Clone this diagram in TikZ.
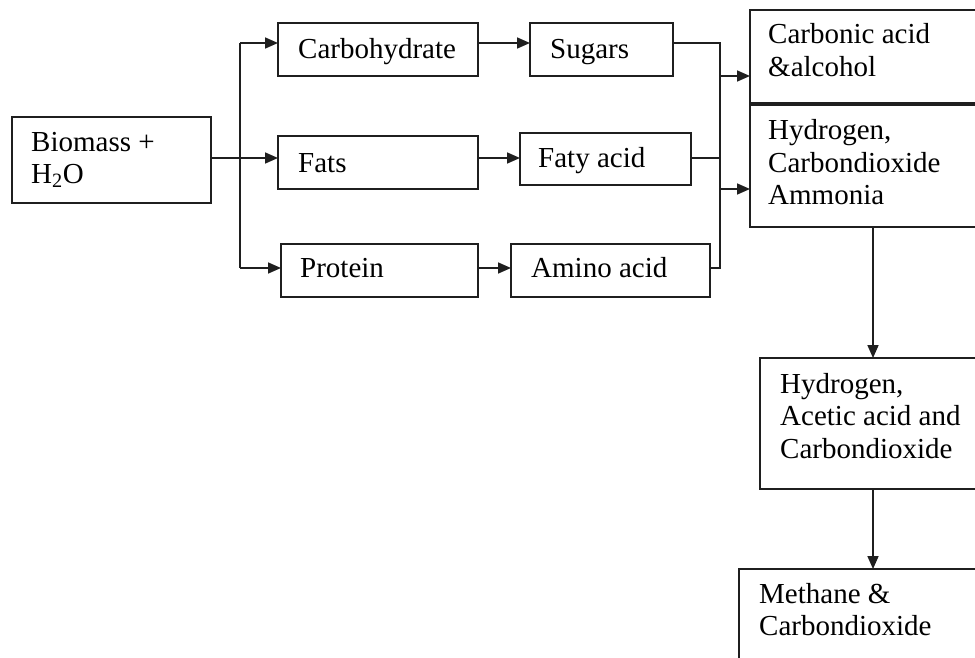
\documentclass[tikz,border=0pt]{standalone}
\usepackage{fontspec}
\setmainfont{Liberation Serif}
\usetikzlibrary{arrows.meta}
\begin{document}
\begin{tikzpicture}[x=1pt,y=-1pt,
  box/.style={draw=black!88, line width=1.7pt, rectangle, inner sep=0pt, outer sep=0pt, anchor=north west},
  lbl/.style={anchor=base west, inner sep=0pt, text=black, font=\fontsize{29}{32}\selectfont},
  conn/.style={draw=black!88, line width=1.7pt},
  arr/.style={conn, -{Triangle[length=13pt,width=11pt]}}]
\useasboundingbox (0,0) rectangle (975,657);
\clip (0,0) rectangle (975,657);
% boxes
\node[box, minimum width=199pt, minimum height=86pt] (bio) at (12,117) {};
\node[box, minimum width=200pt, minimum height=53pt] (carb) at (278,23) {};
\node[box, minimum width=143pt, minimum height=53pt] (sug) at (530,23) {};
\node[box, minimum width=200pt, minimum height=53pt] (fats) at (278,136) {};
\node[box, minimum width=171pt, minimum height=52pt] (faty) at (520,133) {};
\node[box, minimum width=197pt, minimum height=53pt] (prot) at (281,244) {};
\node[box, minimum width=199pt, minimum height=53pt] (amino) at (511,244) {};
\node[box, minimum width=240pt, minimum height=93pt] (carbo) at (750,10) {};
\node[box, minimum width=240pt, minimum height=122pt] (hyd) at (750,105) {};
\node[box, minimum width=230pt, minimum height=131pt] (acet) at (760,358) {};
\node[box, minimum width=250pt, minimum height=100pt] (meth) at (739,569) {};
% texts
\node[lbl] (tbio1) at (31,151) {Biomass +};
\node[lbl] (tbio2) at (31,183) {H\textsubscript{2}O};
\node[lbl] (tcarb) at (298,58) {Carbohydrate};
\node[lbl] (tsug) at (550,58) {Sugars};
\node[lbl] (tfats) at (298,172) {Fats};
\node[lbl] (tfaty) at (538,167) {Faty acid};
\node[lbl] (tprot) at (300,277) {Protein};
\node[lbl] (tamino) at (531,277) {Amino acid};
\node[lbl] (tcarbo1) at (768,43) {Carbonic acid};
\node[lbl] (tcarbo2) at (768,76) {\&alcohol};
\node[lbl] (thyd1) at (768,139) {Hydrogen,};
\node[lbl] (thyd2) at (768,172) {Carbondioxide};
\node[lbl] (thyd3) at (768,204) {Ammonia};
\node[lbl] (tacet1) at (780,393) {Hydrogen,};
\node[lbl] (tacet2) at (780,425) {Acetic acid and};
\node[lbl] (tacet3) at (780,458) {Carbondioxide};
\node[lbl] (tmeth1) at (759,603) {Methane \&};
\node[lbl] (tmeth2) at (759,635) {Carbondioxide};
% reference coordinates
\coordinate (yA) at (0,43);
\coordinate (yB) at (0,158);
\coordinate (yC) at (0,268);
\coordinate (yD) at (0,76);
\coordinate (yE) at (0,189);
\coordinate (xL) at (240,0);
\coordinate (xR) at (720,0);
\coordinate (xM) at (873,0);
% connectors
\draw[arr] (bio.east |- yB) -- (fats.west |- yB);
\draw[conn] (xL |- yA) -- (xL |- yC);
\draw[arr] (xL |- yA) -- (carb.west |- yA);
\draw[arr] (xL |- yC) -- (prot.west |- yC);
\draw[arr] (carb.east |- yA) -- (sug.west |- yA);
\draw[arr] (fats.east |- yB) -- (faty.west |- yB);
\draw[arr] (prot.east |- yC) -- (amino.west |- yC);
\draw[conn] (sug.east |- yA) -- (xR |- yA) -- (xR |- yC) -- (amino.east |- yC);
\draw[conn] (faty.east |- yB) -- (xR |- yB);
\draw[arr] (xR |- yD) -- (carbo.west |- yD);
\draw[arr] (xR |- yE) -- (hyd.west |- yE);
\draw[arr] (hyd.south -| xM) -- (acet.north -| xM);
\draw[arr] (acet.south -| xM) -- (meth.north -| xM);
\end{tikzpicture}
\end{document}
